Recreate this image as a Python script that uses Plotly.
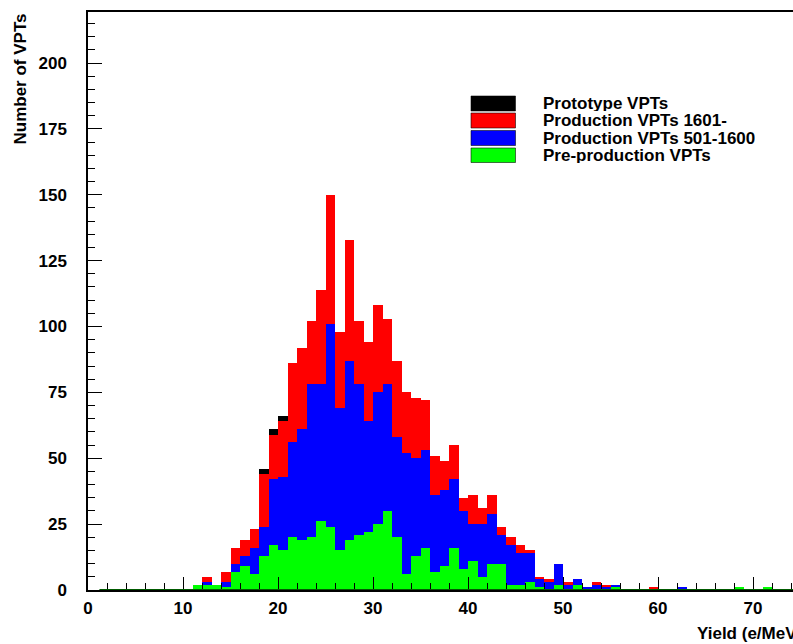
import plotly.graph_objects as go

# Yield histogram (bin width 1 e/MeV), lower bin edges 11 .. 71
bin_low = list(range(11, 72))

pre_production = [2, 2, 2, 1, 7, 9, 6, 13, 17, 15,
                  20, 19, 20, 26, 24, 15, 19, 21, 22, 25,
                  30, 20, 6, 13, 16, 7, 9, 16, 8, 11,
                  5, 10, 10, 2, 2, 3, 1, 0, 2, 0,
                  2, 0, 0, 0, 1, 0, 0, 0, 0, 0,
                  0, 0, 0, 0, 0, 0, 0, 1, 0, 0,
                  1]
production_501_1600 = [0, 1, 0, 2, 3, 4, 10, 11, 25, 28,
                       36, 42, 58, 52, 77, 54, 68, 57, 42, 50,
                       48, 38, 46, 37, 37, 29, 29, 26, 22, 14,
                       20, 19, 11, 15, 12, 11, 3, 3, 8, 2,
                       2, 1, 2, 1, 1, 0, 0, 0, 0, 0,
                       0, 1, 0, 0, 0, 0, 0, 0, 0, 0,
                       0]
production_1601 = [0, 2, 0, 4, 6, 6, 7, 20, 17, 21,
                   30, 31, 24, 36, 49, 29, 46, 24, 30, 33,
                   25, 29, 23, 23, 19, 15, 11, 13, 5, 11,
                   6, 7, 3, 3, 3, 1, 1, 1, 0, 1,
                   0, 0, 1, 1, 0, 0, 0, 0, 1, 0,
                   0, 0, 0, 0, 0, 0, 0, 0, 0, 0,
                   0]
prototype = [0, 0, 0, 0, 0, 0, 0, 2, 2, 2] + [0] * 51

series_names = ["Pre-production VPTs", "Production VPTs 501-1600",
                "Production VPTs 1601-", "Prototype VPTs"]
series_values = [pre_production, production_501_1600, production_1601, prototype]
series_colors = ["#00ff00", "#0000ff", "#ff0000", "#000000"]

x_ticks = [0, 10, 20, 30, 40, 50, 60, 70]
y_ticks = [0, 25, 50, 75, 100, 125, 150, 175, 200]

# page geometry (pixels)
W, H = 793, 644
ML, MR, MT, MB = 88, 0, 12, 54
PW, PH = W - ML - MR, H - MT - MB
PX_PER_X = 9.5
PX_PER_Y = 2.635
x_max = PW / PX_PER_X
y_max = PH / PX_PER_Y

FONT = dict(family="Liberation Sans, Arial, sans-serif", size=17, color="black", weight="bold")

centers = [b + 0.5 for b in bin_low]

fig = go.Figure()
for name, vals, col in zip(series_names, series_values, series_colors):
    fig.add_trace(go.Bar(x=centers, y=vals, width=1.0, name=name,
                         marker=dict(color=col, line=dict(width=0)),
                         showlegend=False))


def px_x(p):
    return (p - ML) / PW


def px_y(p):
    return (H - MB - p) / PH


# legend drawn as boxes + labels, top entry = top of the stack
legend_rows = [(96, 111), (113, 128), (130.5, 145.5), (148, 162.5)]
for (y0, y1), name, col in zip(legend_rows, series_names[::-1], series_colors[::-1]):
    fig.add_shape(type="rect", xref="paper", yref="paper",
                  x0=px_x(471), x1=px_x(515.5), y0=px_y(y1), y1=px_y(y0),
                  fillcolor=col, line=dict(color="rgba(0,0,0,0.55)", width=1), layer="above")
    fig.add_annotation(xref="paper", yref="paper", x=px_x(541), y=px_y((y0 + y1) / 2),
                       xanchor="left", yanchor="middle", text=name, showarrow=False,
                       height=15, valign="middle", font=FONT)

# histogram outline along the zero level
fig.add_shape(type="line", xref="x", yref="y", x0=1.2, x1=x_max + 1, y0=0, y1=0,
              line=dict(color="#005a00", width=2), layer="above")

# axis titles
fig.add_annotation(xref="paper", yref="paper", x=px_x(19.5), y=px_y(79),
                   xanchor="center", yanchor="middle", textangle=-90,
                   text="Number of VPTs", showarrow=False, font=FONT)
fig.add_annotation(xref="paper", yref="paper", x=px_x(695), y=px_y(633),
                   xanchor="left", yanchor="middle",
                   text="Yield (e/MeV)", showarrow=False, font=FONT)

fig.update_layout(
    width=W, height=H,
    margin=dict(l=ML, r=MR, t=MT, b=MB, pad=0),
    barmode="stack", bargap=0,
    paper_bgcolor="white", plot_bgcolor="white",
    font=FONT,
    xaxis=dict(range=[0, x_max], tickvals=x_ticks, ticktext=[str(v) for v in x_ticks],
               ticks="inside", ticklen=13, tickwidth=1, tickcolor="black",
               minor=dict(dtick=2, tick0=0, ticks="inside", ticklen=7, tickwidth=1, tickcolor="black"),
               showline=True, linecolor="black", linewidth=1.5, mirror=True,
               showgrid=False, zeroline=False, tickfont=FONT, ticklabelstandoff=2),
    yaxis=dict(range=[0, y_max], tickvals=y_ticks, ticktext=[str(v) for v in y_ticks],
               ticks="inside", ticklen=14, tickwidth=1, tickcolor="black",
               minor=dict(dtick=5, tick0=0, ticks="inside", ticklen=7, tickwidth=1, tickcolor="black"),
               showline=True, linecolor="black", linewidth=1.5, mirror=False,
               showgrid=False, zeroline=False, tickfont=FONT, ticklabelstandoff=16),
)

fig.write_html("out.html")
